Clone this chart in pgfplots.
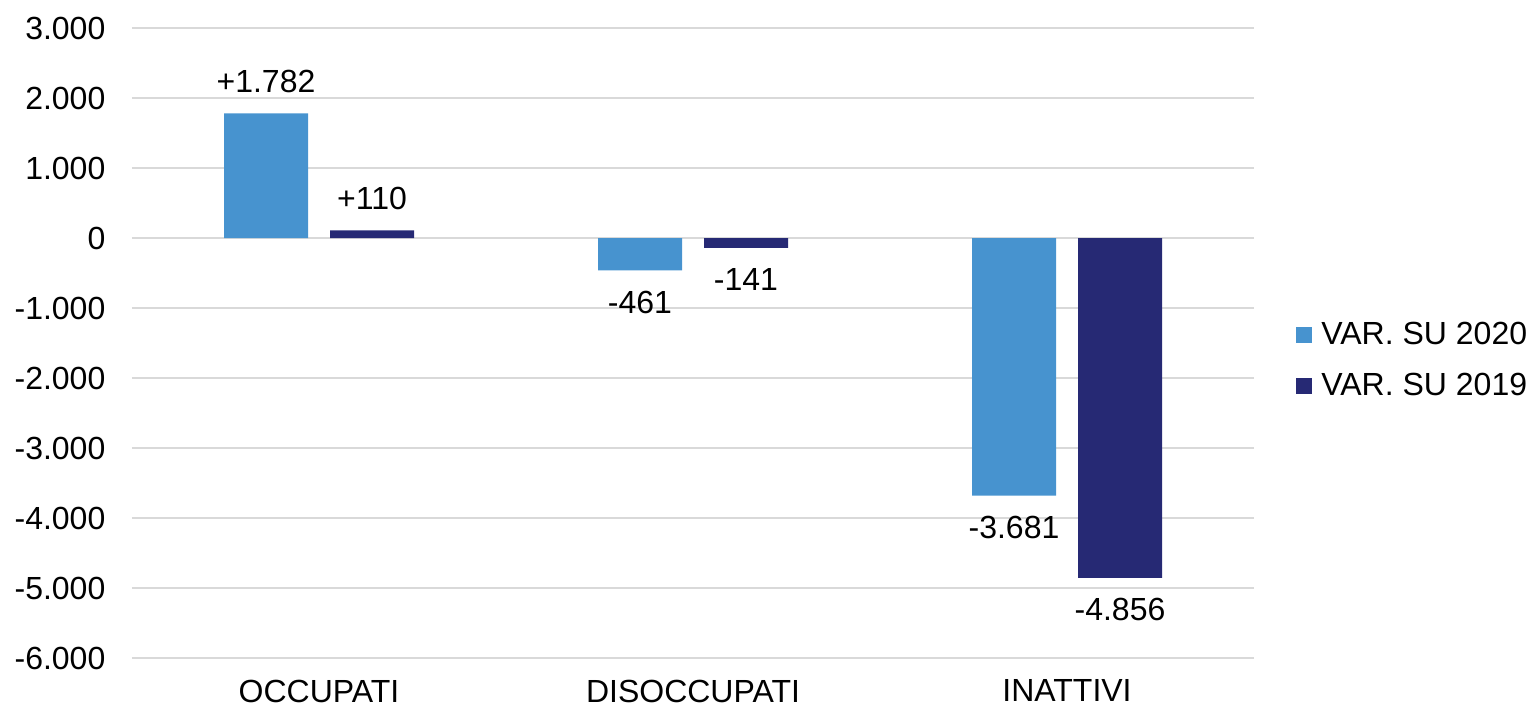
\documentclass[border=0pt]{standalone}
\usepackage{pgfplots}
\pgfplotsset{compat=1.18}
\usepackage{pgfplotstable}
\usepackage{fontspec}
\setmainfont{Liberation Sans}
\definecolor{cA}{RGB}{71,147,207}
\definecolor{cB}{RGB}{38,41,116}
\definecolor{gridc}{RGB}{217,217,217}
\pgfplotstableread{
x y lab
0 1782 +1.782
1 -461 -461
2 -3681 -3.681
}\tabA
\pgfplotstableread{
x y lab
0 110 +110
1 -141 -141
2 -4856 -4.856
}\tabB
\begin{document}
\begin{tikzpicture}[font=\fontsize{16}{19}\selectfont]
\useasboundingbox (-66pt,-25.5pt) rectangle (698.5pt,329pt);
\begin{axis}[
  at={(0,0)}, anchor=south west,
  scale only axis, width=561pt, height=315pt,
  xmin=-0.5, xmax=2.5, ymin=-6000, ymax=3000,
  axis line style={draw=none},
  major tick length=0pt,
  xtick={0,1,2}, xticklabels={OCCUPATI,DISOCCUPATI,INATTIVI},
  ytick={-6000,-5000,-4000,-3000,-2000,-1000,0,1000,2000,3000},
  yticklabels={-6.000,-5.000,-4.000,-3.000,-2.000,-1.000,0,1.000,2.000,3.000},
  yticklabel style={xshift=-9.8pt},
  xticklabel style={yshift=-7.3pt},
  ymajorgrids, grid style={gridc, line width=1pt},
  clip=false,
  nodes near coords,
  point meta=explicit symbolic,
  visualization depends on={y \as \rawy},
  every node near coord/.append style={inner ysep=10pt, anchor={\ifdim\rawy pt<0pt north\else south\fi}},
  legend style={at={(axis description cs:1,0.5)}, anchor=west, xshift=21pt, yshift=-8.75pt,
    draw=none, fill=none, row sep=9pt, inner sep=0pt,
    nodes={inner xsep=4.5pt}},
  legend cell align=left,
]
\addplot[fill=cA, draw=none, ybar, bar width=42pt, bar shift=-26.5pt,
  every node near coord/.append style={xshift=-26.5pt},
  legend image code/.code={\fill[cA] (0pt,-4pt) rectangle (8pt,4pt);}]
  table[x=x, y=y, meta=lab] {\tabA};
\addlegendentry{VAR. SU 2020}
\addplot[fill=cB, draw=none, ybar, bar width=42pt, bar shift=26.5pt,
  every node near coord/.append style={xshift=26.5pt},
  legend image code/.code={\fill[cB] (0pt,-4pt) rectangle (8pt,4pt);}]
  table[x=x, y=y, meta=lab] {\tabB};
\addlegendentry{VAR. SU 2019}
\end{axis}
\end{tikzpicture}
\end{document}
